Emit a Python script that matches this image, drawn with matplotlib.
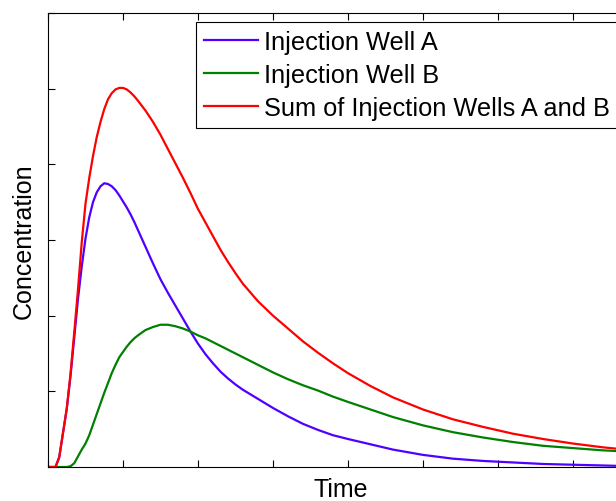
import matplotlib
matplotlib.use('Agg')
import matplotlib.pyplot as plt

plt.rcParams['font.family'] = ['Liberation Sans', 'DejaVu Sans']

# time axis (arbitrary units, one unit per tick)
time = [0, 0.1, 0.15, 0.2, 0.25, 0.3, 0.35, 0.4, 0.45, 0.5, 0.55, 0.6, 0.65,
        0.7, 0.75, 0.8, 0.85, 0.9, 0.95, 1.0, 1.05, 1.1, 1.15, 1.2, 1.3, 1.4,
        1.5, 1.6, 1.7, 1.8, 1.9, 2.0, 2.1, 2.2, 2.3, 2.4, 2.5, 2.6, 2.8, 3.0,
        3.2, 3.4, 3.6, 3.8, 4.0, 4.3, 4.6, 5.0, 5.4, 5.8, 6.2, 6.6, 7.0, 7.4,
        7.8]

well_a = [0, 0, 0.13, 0.45, 0.77, 1.20, 1.71, 2.22, 2.65, 3.02, 3.30, 3.50,
          3.63, 3.71, 3.75, 3.74, 3.71, 3.66, 3.59, 3.51, 3.43, 3.34, 3.24,
          3.13, 2.91, 2.69, 2.48, 2.30, 2.13, 1.96, 1.79, 1.63, 1.49, 1.37,
          1.26, 1.17, 1.09, 1.02, 0.90, 0.78, 0.67, 0.57, 0.49, 0.42, 0.37,
          0.30, 0.23, 0.16, 0.11, 0.08, 0.06, 0.04, 0.03, 0.02, 0.01]

well_b = [0, 0, 0, 0, 0, 0.01, 0.05, 0.14, 0.23, 0.31, 0.42, 0.56, 0.70, 0.84,
          0.98, 1.11, 1.24, 1.35, 1.45, 1.52, 1.59, 1.65, 1.70, 1.74, 1.81,
          1.85, 1.88, 1.88, 1.86, 1.83, 1.79, 1.74, 1.70, 1.65, 1.60, 1.55,
          1.50, 1.45, 1.35, 1.25, 1.16, 1.08, 1.01, 0.93, 0.86, 0.76, 0.66,
          0.55, 0.46, 0.39, 0.33, 0.28, 0.25, 0.22, 0.20]

well_sum = [0, 0, 0.13, 0.45, 0.77, 1.23, 1.78, 2.35, 2.97, 3.48, 3.82, 4.11,
            4.36, 4.56, 4.73, 4.86, 4.94, 4.99, 5.01, 5.01, 4.99, 4.95, 4.90,
            4.84, 4.71, 4.56, 4.39, 4.20, 4.01, 3.82, 3.62, 3.41, 3.23, 3.05,
            2.87, 2.71, 2.56, 2.42, 2.19, 2.00, 1.83, 1.66, 1.51, 1.37, 1.24,
            1.07, 0.92, 0.76, 0.63, 0.53, 0.44, 0.37, 0.31, 0.26, 0.22]

labels = ['Injection Well A', 'Injection Well B', 'Sum of Injection Wells A and B']
colors = ['#5000ff', '#008000', '#ff0000']

fig = plt.figure(figsize=(6.16, 5.02), dpi=100)
ax = fig.add_axes([48 / 616, 34 / 502, 585 / 616, 454 / 502])

for y, lab, c in zip([well_a, well_b, well_sum], labels, colors):
    ax.plot(time, y, color=c, linewidth=1.6, label=lab)

ax.set_xlim(0, 7.8)
ax.set_ylim(0, 6)
ax.set_xticks(range(0, 8))
ax.set_yticks(range(0, 7))
ax.tick_params(direction='in', length=5, width=0.8, top=True, right=True,
               labelbottom=False, labelleft=False)
for s in ax.spines.values():
    s.set_linewidth(0.8)

ax.set_xlabel('Time', fontsize=18, labelpad=7)
ax.set_ylabel('Concentration', fontsize=18, labelpad=9)

# legend runs past the right edge of the figure, as in the original
leg = ax.legend(loc='upper left', bbox_to_anchor=(196 / 616, 1 - 23 / 502),
                bbox_transform=fig.transFigure, borderaxespad=0, fontsize=18.3,
                fancybox=False, framealpha=1, edgecolor='black',
                handlelength=2.1, handletextpad=0.25, labelspacing=0.34,
                borderpad=0.33)
leg.get_frame().set_linewidth(0.8)

fig.savefig('out.png', dpi=100)
